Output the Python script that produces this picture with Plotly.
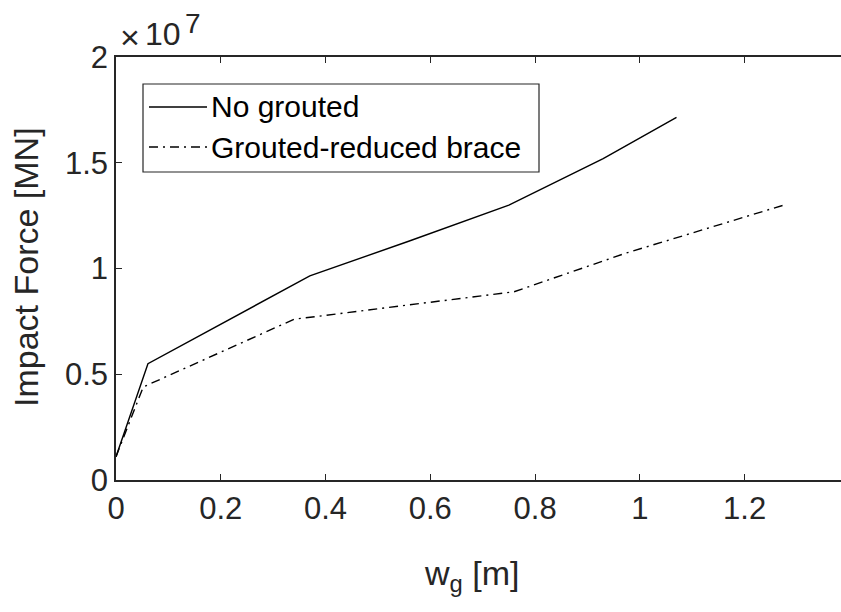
import plotly.graph_objects as go

# Impact force vs. gap width for the two brace configurations
wg_no_grout = [0.0, 0.061, 0.37, 0.56, 0.75, 0.93, 1.07]
force_no_grout = [1.1e6, 5.5e6, 9.65e6, 1.13e7, 1.30e7, 1.52e7, 1.715e7]

wg_grouted = [0.0, 0.052, 0.34, 0.76, 0.97, 1.275]
force_grouted = [1.1e6, 4.4e6, 7.6e6, 8.9e6, 1.07e7, 1.30e7]

series_names = ["No grouted", "Grouted-reduced brace"]
x_ticks = [0, 0.2, 0.4, 0.6, 0.8, 1.0, 1.2]
x_tick_text = ["0", "0.2", "0.4", "0.6", "0.8", "1", "1.2"]
y_ticks = [0, 5e6, 1e7, 1.5e7, 2e7]
y_tick_text = ["0", "0.5", "1", "1.5", "2"]

INK = "#262626"
FONT = "Liberation Sans, Arial, sans-serif"
W, H = 841, 612
ML, MT, MB = 116, 57, 132
DASHDOT = "9px,5px,2px,5px"


def px(xp):
    """Horizontal pixel -> paper fraction of the plot area."""
    return (xp - ML) / (W - ML)


def py(yp):
    """Vertical pixel -> paper fraction of the plot area."""
    return (H - MB - yp) / (H - MB - MT)


fig = go.Figure()
fig.add_trace(go.Scatter(
    x=wg_no_grout, y=force_no_grout, mode="lines", name=series_names[0],
    line=dict(color="black", width=1.4), showlegend=False,
))
fig.add_trace(go.Scatter(
    x=wg_grouted, y=force_grouted, mode="lines", name=series_names[1],
    line=dict(color="black", width=1.4, dash=DASHDOT), showlegend=False,
))

fig.update_layout(
    width=W, height=H,
    margin=dict(l=ML, r=0, t=MT, b=MB),
    paper_bgcolor="white", plot_bgcolor="white",
    font=dict(family=FONT, size=31, color=INK),
    xaxis=dict(
        range=[0, 1.384], tickvals=x_ticks, ticktext=x_tick_text,
        ticks="inside", ticklen=6, tickcolor=INK, tickwidth=1,
        showline=True, linecolor=INK, linewidth=1.5, mirror="ticks",
        showgrid=False, zeroline=False,
        tickfont=dict(size=31, color=INK),
    ),
    yaxis=dict(
        range=[0, 2e7], tickvals=y_ticks, ticktext=y_tick_text,
        ticks="inside", ticklen=6, tickcolor=INK, tickwidth=1,
        showline=True, linecolor=INK, linewidth=1.5, mirror=False,
        showgrid=False, zeroline=False,
        tickfont=dict(size=31, color=INK),
    ),
)

# Legend box with line samples
fig.add_shape(type="rect", xref="paper", yref="paper",
              x0=px(143), x1=px(539), y0=py(172), y1=py(84),
              line=dict(color=INK, width=1.2), fillcolor="white", layer="above")
legend_rows = [(107, None), (147, DASHDOT)]
for (row_y, dash), name in zip(legend_rows, series_names):
    fig.add_shape(type="line", xref="paper", yref="paper",
                  x0=px(149), x1=px(207), y0=py(row_y), y1=py(row_y),
                  line=dict(color="black", width=1.4, dash=dash), layer="above")
    fig.add_annotation(text=name, xref="paper", yref="paper",
                       x=px(209), y=py(row_y), xanchor="left", yanchor="middle",
                       showarrow=False, font=dict(family=FONT, size=30, color="black"))

# Axis titles
fig.add_annotation(
    text="w<sub>g</sub> [m]", xref="paper", yref="paper",
    x=px(471), y=py(575), xanchor="center", yanchor="middle", showarrow=False,
    font=dict(family=FONT, size=34, color=INK),
)
fig.add_annotation(
    text="Impact Force [MN]", xref="paper", yref="paper",
    x=px(26), y=py(267), xanchor="center", yanchor="middle", showarrow=False,
    textangle=-90, font=dict(family=FONT, size=34, color=INK),
)

# Exponent marker above the y axis
exponent_parts = [("×", 118, 37, 34), ("10", 143, 34, 32), ("7", 183, 23, 28)]
for label, x_pix, y_pix, size in exponent_parts:
    fig.add_annotation(
        text=label, xref="paper", yref="paper",
        x=px(x_pix), y=py(y_pix), xanchor="left", yanchor="middle", showarrow=False,
        font=dict(family=FONT, size=size, color=INK),
    )

fig.write_html("out.html")
